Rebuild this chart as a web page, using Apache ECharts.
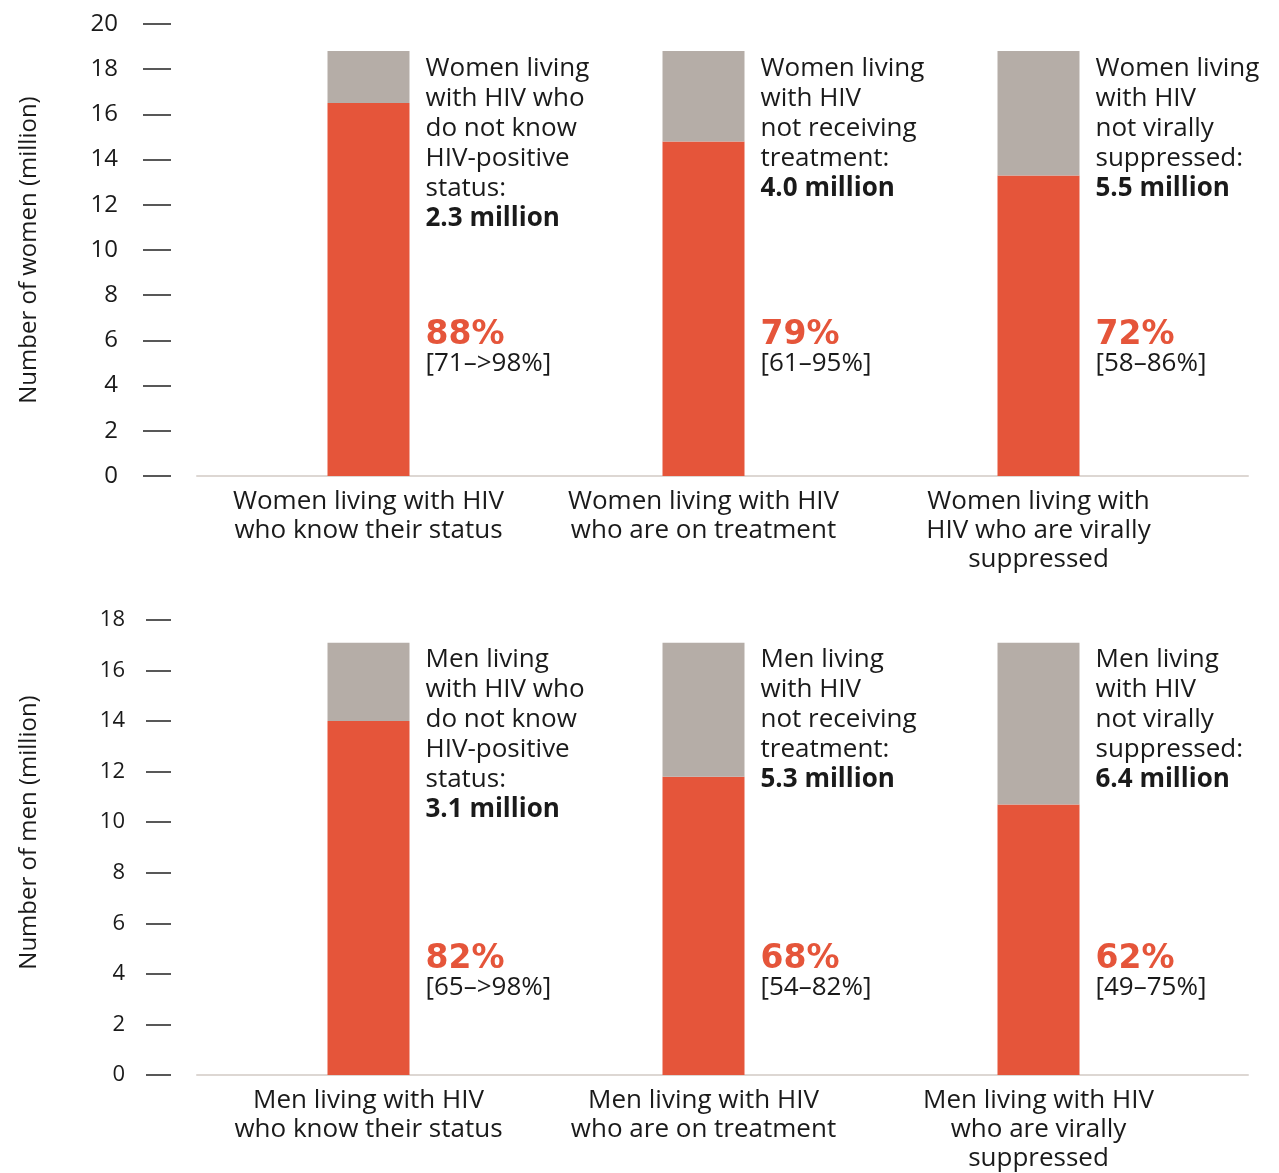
<!DOCTYPE html>
<html>
<head>
<meta charset="utf-8">
<script src="https://cdn.jsdelivr.net/npm/echarts@6/dist/echarts.min.js"></script>
<style>
  html, body { margin: 0; padding: 0; background: #fff; }
  #chart { width: 1279px; height: 1173px; }
</style>
</head>
<body>
<div id="chart"></div>
<script>
// ---- Women ----
const womenCategories = [
  'Women living with HIV\nwho know their status',
  'Women living with HIV\nwho are on treatment',
  'Women living with\nHIV who are virally\nsuppressed'
];
const womenReached = [16.5, 14.8, 13.3];   // million
const womenGap = [2.3, 4.0, 5.5];           // million
const womenGapText = [
  'Women living\nwith HIV who\ndo not know\nHIV-positive\nstatus:',
  'Women living\nwith HIV\nnot receiving\ntreatment:',
  'Women living\nwith HIV\nnot virally\nsuppressed:'
];
const womenPct = ['88%', '79%', '72%'];
const womenRange = ['[71–>98%]', '[61–95%]', '[58–86%]'];
const womenTicks = { min: 0, max: 20, interval: 2 };

// ---- Men ----
const menCategories = [
  'Men living with HIV\nwho know their status',
  'Men living with HIV\nwho are on treatment',
  'Men living with HIV\nwho are virally\nsuppressed'
];
const menReached = [14.0, 11.8, 10.7];
const menGap = [3.1, 5.3, 6.4];
const menGapText = [
  'Men living\nwith HIV who\ndo not know\nHIV-positive\nstatus:',
  'Men living\nwith HIV\nnot receiving\ntreatment:',
  'Men living\nwith HIV\nnot virally\nsuppressed:'
];
const menPct = ['82%', '68%', '62%'];
const menRange = ['[65–>98%]', '[54–82%]', '[49–75%]'];
const menTicks = { min: 0, max: 18, interval: 2 };

const RED = '#E5553A';
const GREY = '#B5ADA7';
const INK = '#1a1a1a';
const FONT = '"Open Sans"';
const HEAVY = '"DejaVu Sans"';

function valueAxis(gridIndex, ticks, name, labelSize, tickLen, margin, namePad) {
  return {
    type: 'value', gridIndex: gridIndex,
    min: ticks.min, max: ticks.max, interval: ticks.interval,
    offset: 30,
    name: name, nameLocation: 'middle', nameGap: 130,
    nameTextStyle: { fontFamily: FONT, fontSize: 24, color: INK, padding: namePad },
    axisLine: { show: false },
    axisTick: { show: true, length: tickLen, lineStyle: { color: '#222', width: 1.5 } },
    axisLabel: { fontFamily: FONT, fontSize: labelSize, color: INK, margin: margin },
    splitLine: { show: false }
  };
}

function categoryAxis(gridIndex, cats) {
  return {
    type: 'category', gridIndex: gridIndex, data: cats,
    axisLine: { show: false }, axisTick: { show: false },
    axisLabel: {
      interval: 0, margin: 11, fontFamily: FONT, fontSize: 26,
      lineHeight: 29, color: INK
    }
  };
}

// a full-width baseline drawn by a second, label-less axis
function baseline(gridIndex) {
  return [{
    type: 'category', gridIndex: gridIndex, data: [''],
    axisLine: { show: true, lineStyle: { color: '#DDD7D3', width: 2 } },
    axisTick: { show: false }, axisLabel: { show: false }
  }, { type: 'value', gridIndex: gridIndex, show: false, min: 0, max: 1 }];
}

function stackSeries(axisIdx, reached, gap, gapText, pct, range, pctOffset) {
  return [{
    type: 'bar', xAxisIndex: axisIdx, yAxisIndex: axisIdx, stack: 's' + axisIdx,
    data: reached, barWidth: 82, itemStyle: { color: RED },
    label: {
      show: true, position: ['100%', '100%'], align: 'left', verticalAlign: 'bottom',
      offset: [16, pctOffset],
      formatter: p => '{p|' + pct[p.dataIndex] + '}\n{r|' + range[p.dataIndex] + '}',
      rich: {
        p: { fontFamily: HEAVY, fontSize: 33, fontWeight: 'bold', color: RED, lineHeight: 28 },
        r: { fontFamily: FONT, fontSize: 26, color: INK, lineHeight: 30 }
      }
    }
  }, {
    type: 'bar', xAxisIndex: axisIdx, yAxisIndex: axisIdx, stack: 's' + axisIdx,
    data: gap, barWidth: 82, itemStyle: { color: GREY },
    label: {
      show: true, position: ['100%', 0], align: 'left', verticalAlign: 'top',
      offset: [16, 2],
      fontFamily: FONT, fontSize: 26, lineHeight: 30, color: INK,
      formatter: p => gapText[p.dataIndex] + '\n{b|' + p.value.toFixed(1) + ' million}',
      rich: {
        b: { fontFamily: FONT, fontSize: 26, fontWeight: 'bold', color: INK, lineHeight: 30 }
      }
    }
  }];
}

const chart = echarts.init(document.getElementById('chart'), null, { renderer: 'canvas' });
const wLine = baseline(2), mLine = baseline(3);
chart.setOption({
  animation: false,
  backgroundColor: '#fff',
  grid: [
    { left: 201, width: 1005, top: 24, height: 452 },
    { left: 201, width: 1005, top: 620, height: 455 },
    { left: 197, width: 1051, top: 24, height: 452 },
    { left: 197, width: 1051, top: 620, height: 455 }
  ],
  xAxis: [categoryAxis(0, womenCategories), categoryAxis(1, menCategories), wLine[0], mLine[0]],
  yAxis: [
    valueAxis(0, womenTicks, 'Number of women (million)', 24, 28, 53, 0),
    valueAxis(1, menTicks, 'Number of men (million)', 22, 25, 46, [0, 0, 0, 30]),
    wLine[1], mLine[1]
  ],
  series: [].concat(
    stackSeries(0, womenReached, womenGap, womenGapText, womenPct, womenRange, -97),
    stackSeries(1, menReached, menGap, menGapText, menPct, menRange, -72)
  )
});
</script>
</body>
</html>
